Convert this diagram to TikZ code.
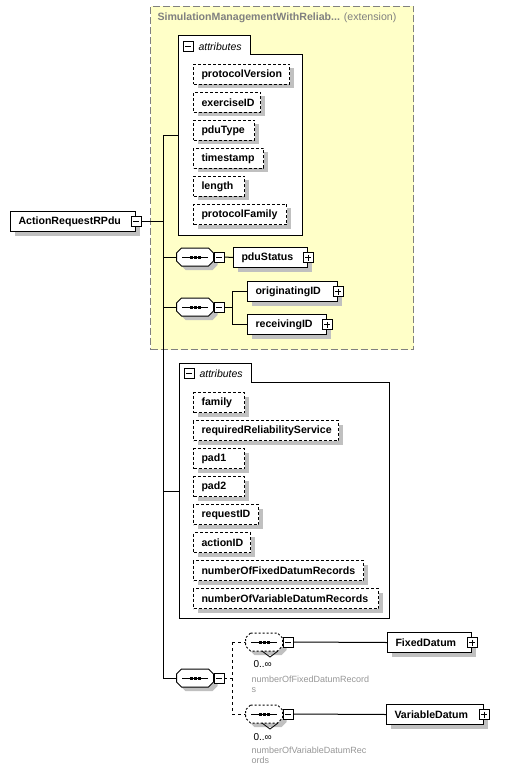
\documentclass[tikz,border=0pt]{standalone}
\usepackage{fontspec}
\setmainfont{Liberation Sans}
\usetikzlibrary{shadows,calc}
\definecolor{extfill}{RGB}{255,255,200}
\definecolor{extline}{RGB}{128,128,128}
\definecolor{shad}{RGB}{192,192,192}
\definecolor{titlegray}{RGB}{128,128,128}
\definecolor{descgray}{RGB}{150,150,150}
\newcommand\bfnt{\fontsize{10.6}{12}\selectfont\bfseries}
\tikzset{
  shd/.style={drop shadow={shadow xshift=4pt,shadow yshift=-4pt,fill=shad,opacity=1}},
  elem/.style={draw, fill=white, shd, font=\bfnt, minimum height=20pt,
    inner xsep=8pt, inner ysep=0pt, text width=#1, align=left, anchor=north west},
  attr/.style={elem=#1, dash pattern=on 3pt off 2pt},
  pm/.style={draw, fill=white, minimum size=10pt, inner sep=0pt, line width=0.8pt},
  minus/.style={pm, path picture={\draw[line width=0.8pt] ([xshift=2pt]path picture bounding box.west) -- ([xshift=-2pt]path picture bounding box.east);}},
  plus/.style={pm, path picture={\draw[line width=0.8pt] ([xshift=2pt]path picture bounding box.west) -- ([xshift=-2pt]path picture bounding box.east);
     \draw[line width=0.8pt] ([yshift=-2pt]path picture bounding box.north) -- ([yshift=2pt]path picture bounding box.south);}},
  seqn/.style={minimum width=36pt, minimum height=17pt, inner sep=0pt},
  extbox/.style={draw=extline, fill=extfill, dash pattern=on 7pt off 3pt, inner sep=0pt},
  desc/.style={anchor=north west, align=left, text=descgray, font=\fontsize{9}{10.5}\selectfont, inner sep=0pt},
  occ/.style={anchor=west, font=\fontsize{10}{11}\selectfont, inner sep=0pt},
}
\newcommand\octpath[1]{([xshift=5pt]#1.north west) -- ([xshift=-5pt]#1.north east) -- ([yshift=-5pt]#1.north east) -- ([yshift=5pt]#1.south east) -- ([xshift=-5pt]#1.south east) -- ([xshift=5pt]#1.south west) -- ([yshift=5pt]#1.south west) -- ([yshift=-5pt]#1.north west) -- cycle}
\newcommand\seqsym[1]{%
  \draw ([xshift=-13pt]#1.center) -- ([xshift=13pt]#1.center);
  \foreach \dx in {-4,0,4} \fill ([xshift=\dx pt]#1.center) +(-1.5,-1.5) rectangle +(1.5,1.5);}
\newcommand\attrcont[5]{%
  \draw[fill=white] (#2,#5) -- (#2,#3) -- (#2+72,#3) -- (#2+72,#3+19) -- (#4,#3+19) -- (#4,#5) -- cycle;
  \node[minus] (#1m) at (#2+10,#3+10.5) {};
  \node[anchor=west, inner sep=0pt, font=\fontsize{10.5}{12}\selectfont\itshape] (#1t) at (#2+20,#3+10.5) {attributes};}
\begin{document}
\begin{tikzpicture}[x=1pt,y=-1pt,line width=1pt]
\useasboundingbox (0,0) rectangle (511,767);
% extension box
\node[extbox, minimum width=263pt, minimum height=343pt, anchor=north west] (ext) at (150,6) {};
\node[anchor=west, inner sep=0pt, text=titlegray, font=\bfnt] (title) at (157,18) {SimulationManagementWithReliab... {\mdseries (extension)}};
% trunk
\coordinate (trunkTop) at (163,136);
\coordinate (trunkBot) at (163,678);
\draw (trunkTop) -- (trunkBot);
% root
\node[elem=109pt] (AR) at (10,211) {ActionRequestRPdu};
\node[minus] (ARm) at (AR.east) {};
\draw (ARm.east) -- (ARm.east -| trunkTop);
% attributes 1
\attrcont{attrA}{178}{36}{302}{235}
\coordinate (attrAin) at (178,136);
\draw (trunkTop) -- (attrAin);
\node[attr=80pt] (protocolVersion) at (193,64) {protocolVersion};
\node[attr=51pt] (exerciseID) at (193,92) {exerciseID};
\node[attr=45pt] (pduType) at (193,120) {pduType};
\node[attr=54pt] (timestamp) at (193,148) {timestamp};
\node[attr=35pt] (length) at (193,176) {length};
\node[attr=77pt] (protocolFamily) at (193,204) {protocolFamily};
% sequence A
\node[seqn] (seqA) at (195,257) {};
\draw[fill=white, shd] \octpath{seqA};
\seqsym{seqA}
\node[minus, anchor=west] (seqAm) at (seqA.east) {};
\draw (seqA.west -| trunkTop) -- (seqA.west);
\node[elem=58pt] (pduStatus) at (233,247) {pduStatus};
\node[plus] (pduStatusP) at (pduStatus.east) {};
\draw (seqAm.east) -- (pduStatus.west);
% sequence B
\node[seqn] (seqB) at (195,307) {};
\draw[fill=white, shd] \octpath{seqB};
\seqsym{seqB}
\node[minus, anchor=west] (seqBm) at (seqB.east) {};
\draw (seqB.west -| trunkTop) -- (seqB.west);
\coordinate (brB) at (232,307);
\draw (seqBm.east) -- (brB);
\node[elem=74pt] (originatingID) at (247,281) {originatingID};
\node[plus] (originatingIDP) at (originatingID.east) {};
\node[elem=63pt] (receivingID) at (247,314) {receivingID};
\node[plus] (receivingIDP) at (receivingID.east) {};
\draw (originatingID.west -| brB) -- (receivingID.west -| brB);
\draw (originatingID.west -| brB) -- (originatingID.west);
\draw (receivingID.west -| brB) -- (receivingID.west);
% attributes 2
\attrcont{attrB}{179}{363}{389}{618}
\coordinate (attrBin) at (179,491);
\draw (attrBin -| trunkTop) -- (attrBin);
\node[attr=35pt] (family) at (193,392) {family};
\node[attr=129pt] (requiredReliabilityService) at (193,420) {requiredReliabilityService};
\node[attr=35pt] (pad1) at (193,448) {pad1};
\node[attr=35pt] (pad2) at (193,476) {pad2};
\node[attr=49pt] (requestID) at (193,504) {requestID};
\node[attr=41pt] (actionID) at (193,532) {actionID};
\node[attr=154pt] (numberOfFixedDatumRecords) at (193,560) {numberOfFixedDatumRecords};
\node[attr=169pt] (numberOfVariableDatumRecords) at (193,588) {numberOfVariableDatumRecords};
% sequence C
\node[seqn] (seqC) at (195,678) {};
\draw[fill=white, shd] \octpath{seqC};
\seqsym{seqC}
\node[minus, anchor=west] (seqCm) at (seqC.east) {};
\draw (trunkBot) -- (seqC.west);
\coordinate (brC) at (232,678);
\draw[dashed] (seqCm.east) -- (brC);
% repeated sequences
\node[seqn] (repA) at (264,642) {};
\node[seqn] (repB) at (264,714) {};
\draw[dashed] (repA.west -| brC) -- (repB.west -| brC);
\draw[dashed] (repA.west -| brC) -- (repA.west);
\draw[dashed] (repB.west -| brC) -- (repB.west);
\foreach \r in {repA,repB}{
  \draw[fill=white, shd, dash pattern=on 2pt off 2pt] \octpath{\r};
  \draw[line width=0.8pt] ([xshift=-2pt]\r.south) -- ([xshift=6pt,yshift=-6pt]\r.south) -- ([xshift=14pt]\r.south);
  \seqsym{\r}
}
\node[minus, anchor=west] (repAm) at (repA.east) {};
\node[minus, anchor=west] (repBm) at (repB.east) {};
\node[elem=68pt] (FixedDatum) at (387,632) {FixedDatum};
\node[plus] (FixedDatumP) at (FixedDatum.east) {};
\node[elem=81pt] (VariableDatum) at (386,704) {VariableDatum};
\node[plus] (VariableDatumP) at (VariableDatum.east) {};
\draw (repAm.east) -- (FixedDatum.west);
\draw (repBm.east) -- (VariableDatum.west);
% labels
\node[occ] (occA) at (253,664) {0..∞};
\node[desc] (nameA) at (251,675) {numberOfFixedDatumRecord\\s};
\node[occ] (occB) at (253,737) {0..∞};
\node[desc] (nameB) at (251,746) {numberOfVariableDatumRec\\ords};
\end{tikzpicture}
\end{document}
